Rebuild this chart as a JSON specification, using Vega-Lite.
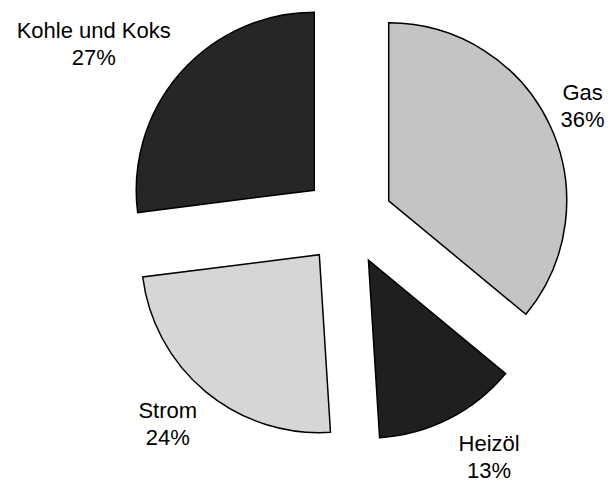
{
  "$schema": "https://vega.github.io/schema/vega-lite/v6.json",
  "width": 611,
  "height": 481,
  "autosize": {"type": "none"},
  "padding": 0,
  "background": "white",
  "config": {"view": {"stroke": null}},
  "data": {
    "values": [
      {"Quelle": "Gas", "Anteil": 36},
      {"Quelle": "Heizöl", "Anteil": 13},
      {"Quelle": "Strom", "Anteil": 24},
      {"Quelle": "Kohle und Koks", "Anteil": 27}
    ]
  },
  "transform": [
    {"window": [{"op": "sum", "field": "Anteil", "as": "Ende"}], "frame": [null, 0]},
    {"calculate": "datum.Ende - datum.Anteil", "as": "Start"},
    {"calculate": "(datum.Start + datum.Ende) / 100 * PI", "as": "Mitte"},
    {"calculate": "45 * sin(datum.Mitte)", "as": "cx"},
    {"calculate": "-45 * cos(datum.Mitte)", "as": "cy"},
    {"calculate": "242 * sin(datum.Mitte) + (sin(datum.Mitte) >= 0 ? 1 : -1) * 5.2 * length(datum.Quelle)", "as": "lx"},
    {"calculate": "-266 * cos(datum.Mitte)", "as": "ly"},
    {"calculate": "datum.Quelle + '\\n' + datum.Anteil + '%'", "as": "Beschriftung"}
  ],
  "layer": [
    {
      "mark": {"type": "arc", "outerRadius": 178, "stroke": "black", "strokeWidth": 1.5},
      "encoding": {
        "theta": {"field": "Start", "type": "quantitative", "scale": {"domain": [0, 100]}},
        "theta2": {"field": "Ende"},
        "x": {"field": "cx", "type": "quantitative", "scale": {"domain": [-348, 263], "nice": false, "zero": false}, "axis": null},
        "y": {"field": "cy", "type": "quantitative", "scale": {"domain": [-220, 261], "nice": false, "zero": false, "reverse": true}, "axis": null},
        "color": {
          "field": "Quelle",
          "type": "nominal",
          "scale": {"domain": ["Gas", "Heizöl", "Strom", "Kohle und Koks"], "range": ["#c4c4c4", "#1f1f1f", "#d6d6d6", "#262626"]},
          "legend": null
        }
      }
    },
    {
      "mark": {"type": "text", "font": "Liberation Sans", "fontSize": 22, "lineBreak": "\n", "lineHeight": 27, "align": "center", "baseline": "middle", "dy": -13.5, "color": "black"},
      "encoding": {
        "x": {"field": "lx", "type": "quantitative", "scale": {"domain": [-348, 263], "nice": false, "zero": false}, "axis": null},
        "y": {"field": "ly", "type": "quantitative", "scale": {"domain": [-220, 261], "nice": false, "zero": false, "reverse": true}, "axis": null},
        "text": {"field": "Beschriftung"}
      }
    }
  ]
}
